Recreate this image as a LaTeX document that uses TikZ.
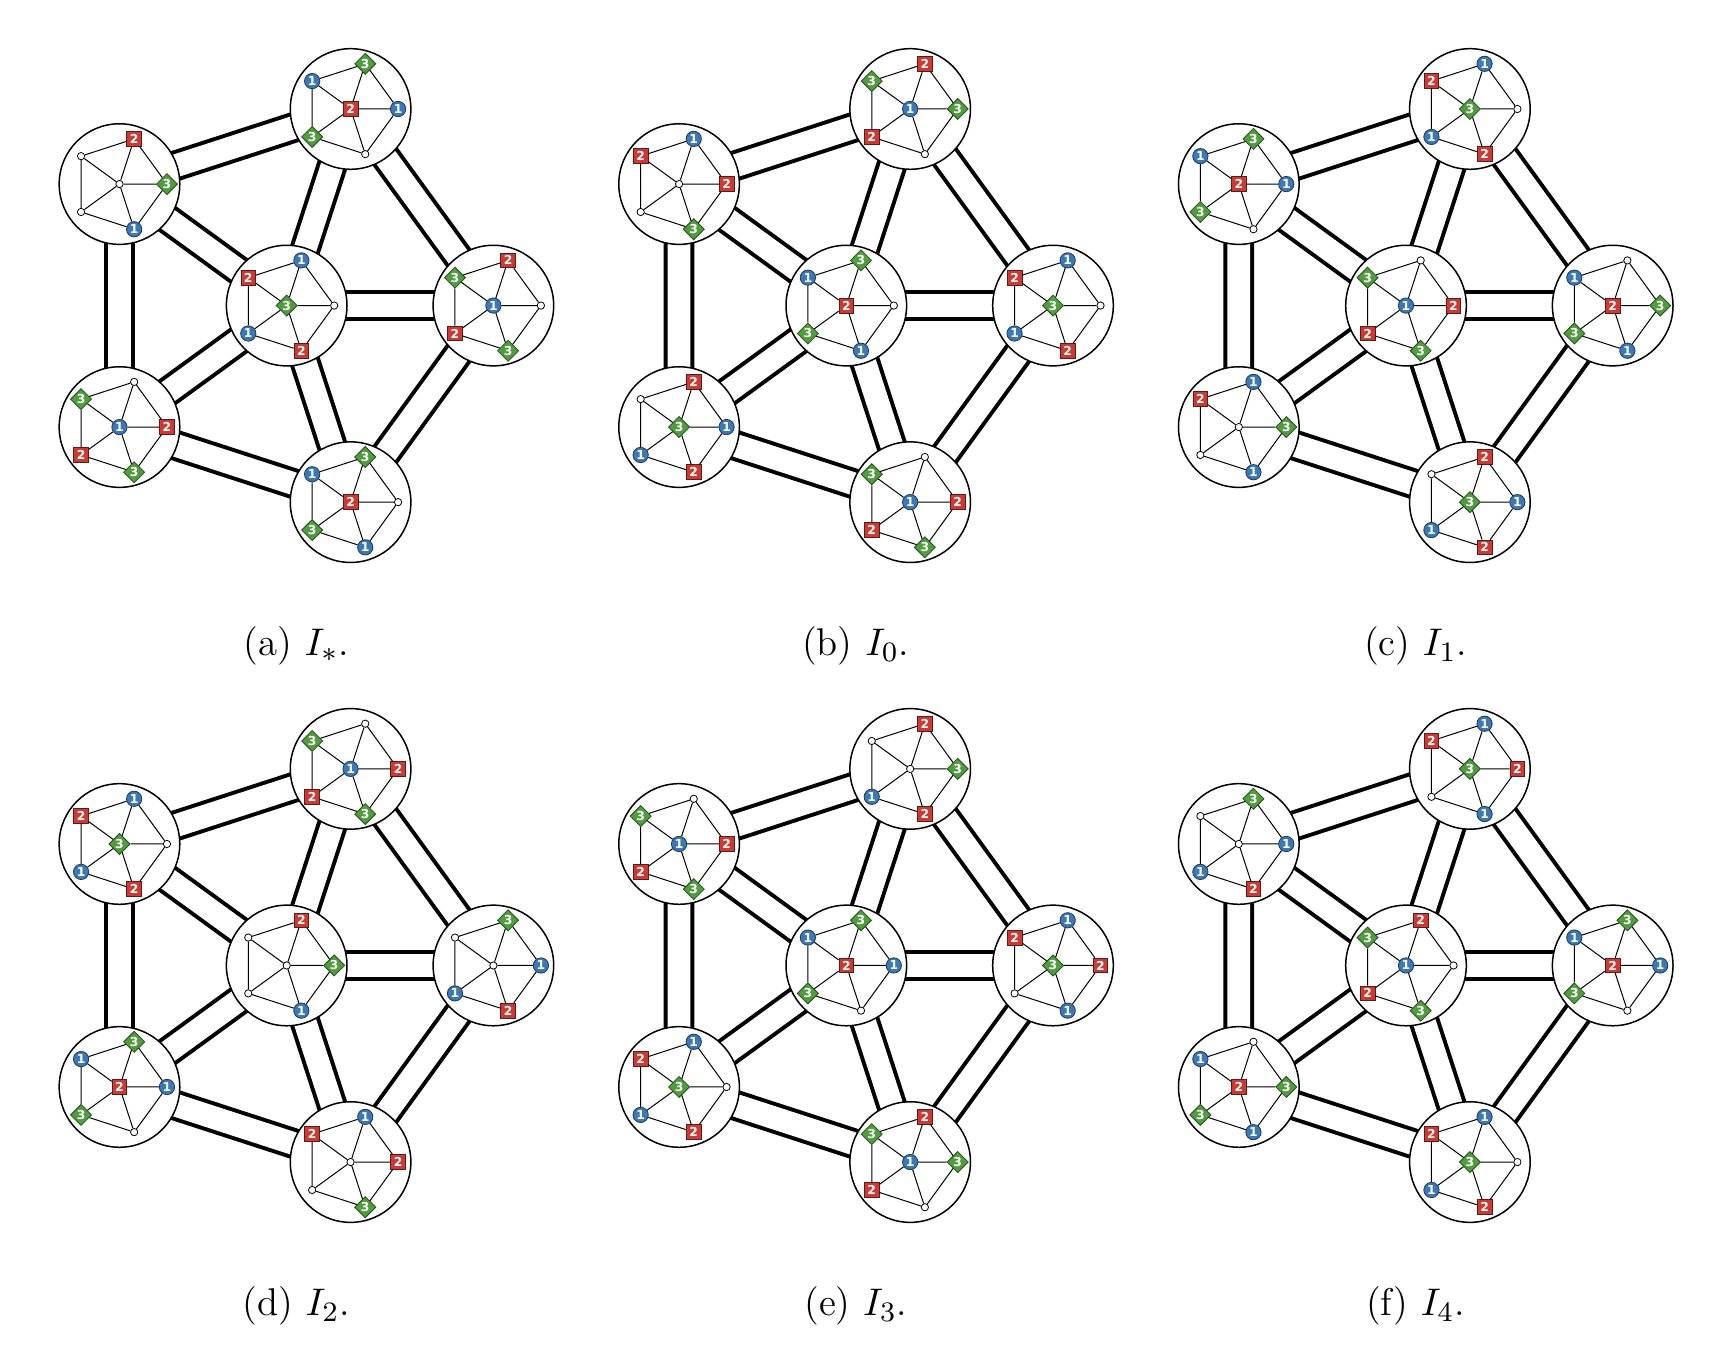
\documentclass[tikz,border=0pt]{standalone}
\usepackage{amsmath,amssymb}
\usepackage{fontspec}
\newfontfamily\numfont{DejaVu Sans}
\usetikzlibrary{shapes.geometric}
\definecolor{lab1}{HTML}{3B78B4}
\definecolor{lab1dk}{HTML}{1E3A5C}
\definecolor{lab2}{HTML}{CD3A34}
\definecolor{lab2dk}{HTML}{5E1A17}
\definecolor{lab3}{HTML}{509C3E}
\definecolor{lab3dk}{HTML}{24501C}
\pgfdeclarelayer{bg}
\pgfsetlayers{bg,main}
\tikzset{
  hub/.style={circle, draw, line width=0.15mm, fill=white, minimum size=12.06mm, inner sep=0pt},
  rail/.style={double, double distance=2.28mm, line width=0.4mm},
  spoke/.style={line width=0.1mm},
  vtx/.style={inner sep=0pt, line width=0.08mm, text=white, font=\numfont\bfseries\fontsize{3.5}{3.5}\selectfont},
  vtx0/.style={vtx, circle, draw=black, fill=white, minimum size=0.73mm},
  vtx1/.style={vtx, circle, draw=lab1dk, fill=lab1, minimum size=1.53mm},
  vtx2/.style={vtx, rectangle, draw=lab2dk, fill=lab2, minimum size=1.47mm},
  vtx3/.style={vtx, diamond, draw=lab3dk, fill=lab3, minimum size=2.13mm},
  subcap/.style={anchor=base, font=\fontsize{11}{13}\selectfont},
}
\newcommand{\vtxtext}[1]{\ifnum#1>0 #1\fi}
% #1 hub name, #2 centre label, #3-#7 rim labels at 0, 72, ..., 288 degrees
\newcommand{\drawwheel}[7]{%
  \node[vtx#2] (#1-c) at (#1.center) {\vtxtext{#2}};
  \foreach \lv/\ang [count=\rj from 0] in {#3/0, #4/72, #5/144, #6/216, #7/288}
    \node[vtx\lv] (#1-\rj) at ([shift={(\ang:47.5)}]#1.center) {\vtxtext{\lv}};
  \foreach \rj in {0,...,4} {
    \pgfmathtruncatemacro\nj{mod(\rj+1,5)}
    \draw[spoke] (#1-c) -- (#1-\rj) -- (#1-\nj);
  }
}
% #1 name, #2 #3 centre, #4 index, #5 wheels (centre hub first)
\newcommand{\drawpanel}[5]{%
  \begin{scope}[shift={(#2,#3)}]
    \foreach \w [count=\hk from 0] in {#5} {
      \pgfmathsetmacro\hrad{\hk>0 ? 206.7 : 0}
      \node[hub] (#1-\hk) at ({72*(\hk-1)}:\hrad) {};
      \edef\wheelcall{\noexpand\drawwheel{#1-\hk}\w}\wheelcall
    }
    % double links
    \begin{pgfonlayer}{bg}
      \foreach \hk in {1,...,5} {
        \pgfmathtruncatemacro\nk{mod(\hk,5)+1}
        \draw[rail] (#1-0.center) -- (#1-\hk.center) -- (#1-\nk.center);
      }
    \end{pgfonlayer}
    \node[subcap] (#1-cap) at (9.5,-350) {(#1)~$I_{#4}$.};
  \end{scope}
}

\begin{document}
\begin{tikzpicture}[x=0.1mm, y=0.1mm]
  \useasboundingbox (0,0) rectangle (1736,1348);

  % Top row
  \drawpanel{a}{286.7}{1042.4}{*}{301212, 102323, 213130, 032001, 120323, 203131}
  \drawpanel{b}{846.3}{1042.4}{0}{203131, 301212, 132320, 021203, 312012, 120323}
  \drawpanel{c}{1406}{1042.4}{1}{120323, 230131, 301212, 213130, 031201, 312012}

  % Bottom row
  \drawpanel{d}{286.7}{382.5}{2}{032001, 013012, 120323, 301212, 213130, 021203}
  \drawpanel{e}{846.3}{382.5}{3}{213130, 321201, 032012, 120323, 301212, 132320}
  \drawpanel{f}{1406}{382.5}{4}{102323, 213130, 321201, 013012, 230131, 301212}
\end{tikzpicture}
\end{document}
